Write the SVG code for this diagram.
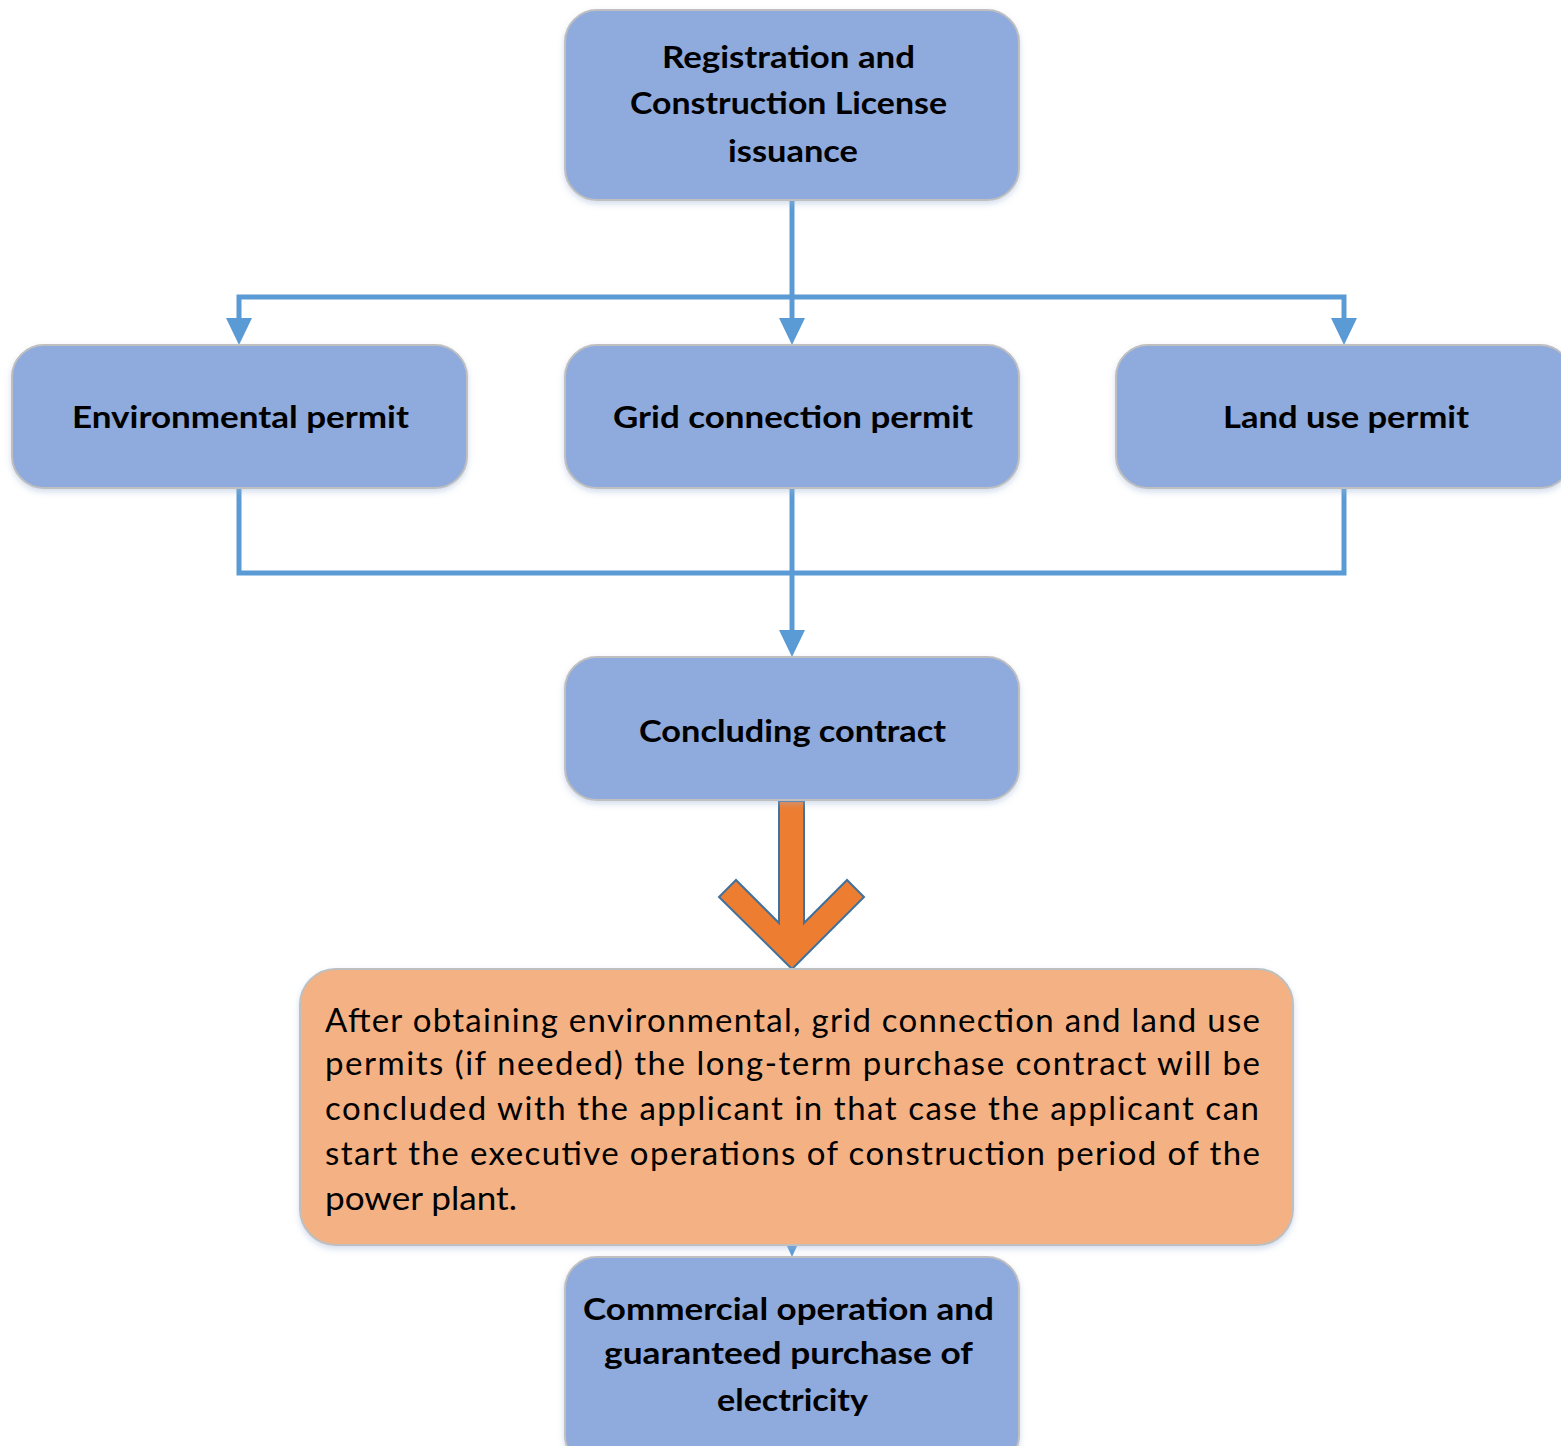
<svg xmlns="http://www.w3.org/2000/svg" width="1561" height="1446" viewBox="0 0 1561 1446">
<style>
.box{fill:#8FAADC;stroke:#BFBFBF;stroke-width:2;filter:url(#sh)}
.obox{fill:#F4B183;stroke:#BFBFBF;stroke-width:2;filter:url(#sh)}
.lbl{font-family:Lato,"Open Sans","Liberation Sans",sans-serif;font-weight:bold;font-size:31px;fill:#000}
.body{font-family:Lato,"Open Sans","Liberation Sans",sans-serif;font-size:33px;fill:#000}
.con{fill:none;stroke:#5B9BD5;stroke-width:5}
.head{fill:#5B9BD5}
</style>
<defs>
<filter id="sh" x="-10%" y="-10%" width="120%" height="130%">
<feDropShadow dx="0" dy="3" stdDeviation="3" flood-color="#9DB3D6" flood-opacity="0.45"/>
</filter>
</defs>
<rect width="1561" height="1446" fill="#fff"/>
<g id="connectors">
<path class="con" d="M792 200 V320"/>
<path class="con" d="M239 320 V297 H1344 V320"/>
<polygon class="head" points="226,318 252,318 239,345"/>
<polygon class="head" points="779,318 805,318 792,345"/>
<polygon class="head" points="1331,318 1357,318 1344,345"/>
<path class="con" d="M239 488 V573 H1344 V488"/>
<path class="con" d="M792 488 V632"/>
<polygon class="head" points="779,630 805,630 792,657"/>
<polygon class="head" points="787,1246 797,1246 792,1257"/>
<polygon id="bigarrow" points="779,801 804,801 804,923 847,880 864,897 792,969 719,897 736,880 779,923" fill="#ED7D31" stroke="#41719C" stroke-width="2" stroke-linejoin="miter"/>
</g>
<g id="n-registration">
<rect class="box" x="565" y="10" width="454" height="190" rx="32"/>
<text class="lbl" x="662" y="68" textLength="253" lengthAdjust="spacingAndGlyphs">Registration and</text>
<text class="lbl" x="630" y="114" textLength="317" lengthAdjust="spacingAndGlyphs">Construction License</text>
<text class="lbl" x="728" y="162" textLength="130" lengthAdjust="spacingAndGlyphs">issuance</text>
</g>
<g id="n-environmental">
<rect class="box" x="12" y="345" width="455" height="143" rx="32"/>
<text class="lbl" x="72" y="428" textLength="337" lengthAdjust="spacingAndGlyphs">Environmental permit</text>
</g>
<g id="n-grid">
<rect class="box" x="565" y="345" width="454" height="143" rx="32"/>
<text class="lbl" x="613" y="428" textLength="360" lengthAdjust="spacingAndGlyphs">Grid connection permit</text>
</g>
<g id="n-land">
<rect class="box" x="1116" y="345" width="456" height="143" rx="32"/>
<text class="lbl" x="1223" y="428" textLength="246" lengthAdjust="spacingAndGlyphs">Land use permit</text>
</g>
<g id="n-concluding">
<rect class="box" x="565" y="657" width="454" height="143" rx="32"/>
<text class="lbl" x="639" y="742" textLength="307" lengthAdjust="spacingAndGlyphs">Concluding contract</text>
</g>
<g id="n-after">
<rect class="obox" x="300" y="969" width="993" height="276" rx="36"/>
<text class="body" x="325" y="1032" textLength="935" lengthAdjust="spacing">After obtaining environmental, grid connection and land use</text>
<text class="body" x="325" y="1075" textLength="935" lengthAdjust="spacing">permits (if needed) the long-term purchase contract will be</text>
<text class="body" x="325" y="1120" textLength="934" lengthAdjust="spacing">concluded with the applicant in that case the applicant can</text>
<text class="body" x="325" y="1165" textLength="935" lengthAdjust="spacing">start the executive operations of construction period of the</text>
<text class="body" x="325" y="1210" textLength="192" lengthAdjust="spacingAndGlyphs">power plant.</text>
</g>
<g id="n-commercial">
<rect class="box" x="565" y="1257" width="454" height="210" rx="32"/>
<text class="lbl" x="583" y="1320" textLength="411" lengthAdjust="spacingAndGlyphs">Commercial operation and</text>
<text class="lbl" x="604" y="1364" textLength="369" lengthAdjust="spacingAndGlyphs">guaranteed purchase of</text>
<text class="lbl" x="717" y="1411" textLength="151" lengthAdjust="spacingAndGlyphs">electricity</text>
</g>
</svg>
